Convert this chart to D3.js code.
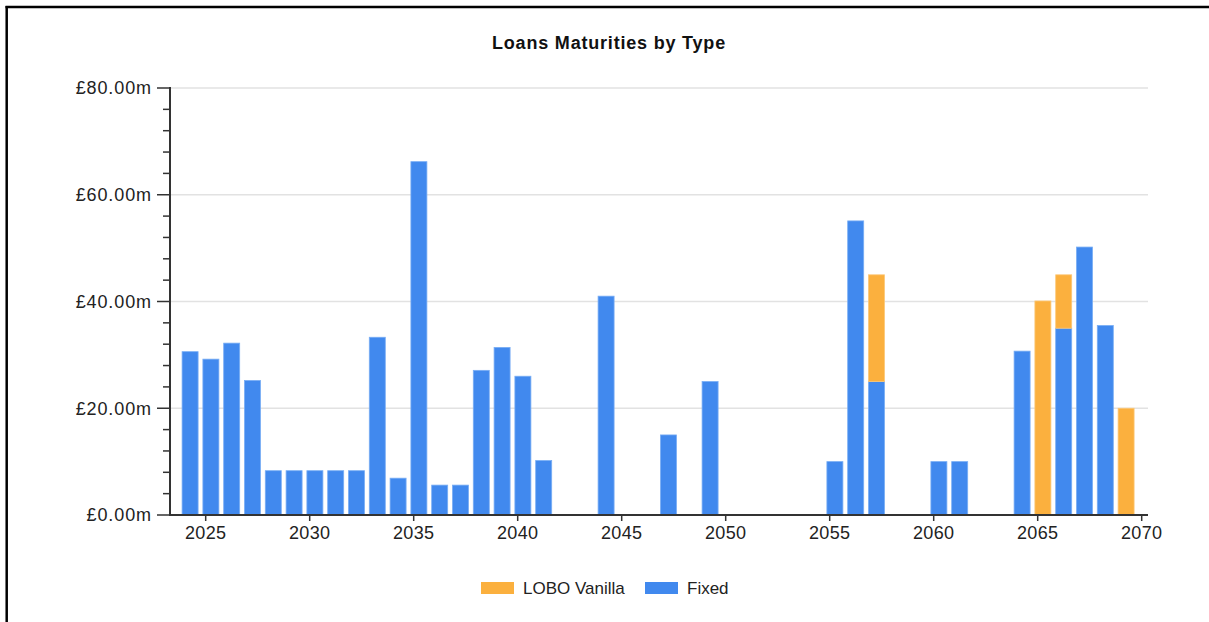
<!DOCTYPE html>
<html>
<head>
<meta charset="utf-8">
<script src="https://cdn.jsdelivr.net/npm/d3@7"></script>
<style>
  html, body { margin: 0; padding: 0; background: #fff; }
  svg { display: block; font-family: "Liberation Sans", Arial, sans-serif; }
</style>
</head>
<body>
<svg id="chart" width="1209" height="622"></svg>
<script>
// ---- data ----
const years = [2024, 2025, 2026, 2027, 2028, 2029, 2030, 2031, 2032, 2033, 2034, 2035, 2036, 2037, 2038, 2039, 2040, 2041,
               2044, 2047, 2049, 2055, 2056, 2057, 2060, 2061, 2064, 2065, 2066, 2067, 2068, 2069];
const fixed = [30.6, 29.2, 32.2, 25.2, 8.3, 8.3, 8.3, 8.3, 8.3, 33.3, 6.9, 66.2, 5.6, 5.6, 27.1, 31.4, 26.0, 10.2,
               41.0, 15.0, 25.0, 10.0, 55.1, 25.0, 10.0, 10.0, 30.7, 0, 35.0, 50.2, 35.5, 0];
const loboVanilla = [0, 0, 0, 0, 0, 0, 0, 0, 0, 0, 0, 0, 0, 0, 0, 0, 0, 0,
                     0, 0, 0, 0, 0, 20.0, 0, 0, 0, 40.1, 10.0, 0, 0, 20.0];
const seriesNames = ["LOBO Vanilla", "Fixed"];
const seriesColors = ["#fbb03e", "#4189ee"];
const yTicks = [0, 20, 40, 60, 80];
const xTicks = [2025, 2030, 2035, 2040, 2045, 2050, 2055, 2060, 2065, 2070];
const title = "Loans Maturities by Type";

// ---- layout ----
const svg = d3.select("#chart");
const plot = { left: 170, right: 1147, top: 88, bottom: 515 };

// frame (top and left border of the captured panel)
svg.append("line").attr("x1", 5.5).attr("x2", 1209).attr("y1", 7).attr("y2", 7)
   .attr("stroke", "#000").attr("stroke-width", 2.5);
svg.append("line").attr("x1", 6.7).attr("x2", 6.7).attr("y1", 6).attr("y2", 622)
   .attr("stroke", "#000").attr("stroke-width", 2.5);

const x = d3.scaleLinear().domain([2023.284, 2070.255]).range([plot.left, plot.right]);
const y = d3.scaleLinear().domain([0, 80]).range([plot.bottom, plot.top]);

// title
svg.append("text").attr("x", 609).attr("y", 49).attr("text-anchor", "middle")
   .attr("font-size", 18).attr("letter-spacing", 0.8).attr("font-weight", "bold").attr("fill", "#111").text(title);

// gridlines
svg.append("g").selectAll("line").data(yTicks.filter(d => d > 0)).join("line")
   .attr("x1", plot.left).attr("x2", plot.right + 1)
   .attr("y1", d => y(d)).attr("y2", d => y(d))
   .attr("stroke", "#e2e2e2").attr("stroke-width", 1.5);

// stacked data
const rows = years.map((yr, i) => ({ year: yr, "Fixed": fixed[i], "LOBO Vanilla": loboVanilla[i] }));
const stack = d3.stack().keys(["Fixed", "LOBO Vanilla"]);
const stacked = stack(rows);
const color = d3.scaleOrdinal().domain(seriesNames).range(seriesColors);
const barW = 16;
const barOffset = 0.25; // bars sit a quarter-year after the year mark

const gBars = svg.append("g");
stacked.forEach(layer => {
  gBars.append("g").selectAll("rect")
    .data(layer.filter(d => d[1] - d[0] > 0)).join("rect")
    .attr("x", d => x(d.data.year + barOffset) - barW / 2)
    .attr("width", barW)
    .attr("y", d => y(d[1]))
    .attr("height", d => y(d[0]) - y(d[1]))
    .attr("fill", color(layer.key))
    .attr("stroke", layer.key === "Fixed" ? "#78adf4" : "#fcc878")
    .attr("stroke-width", 0.8);
});

// y axis
const gy = svg.append("g").attr("transform", `translate(${plot.left},0)`);
gy.append("line").attr("x1", 0).attr("x2", 0).attr("y1", plot.top - 1).attr("y2", plot.bottom + 1)
  .attr("stroke", "#333").attr("stroke-width", 2);
gy.selectAll("line.minor").data(d3.range(0, 81, 4).filter(d => d % 20 !== 0)).join("line")
  .attr("class", "minor").attr("x1", -7).attr("x2", 0).attr("y1", d => y(d)).attr("y2", d => y(d))
  .attr("stroke", "#333").attr("stroke-width", 1.5);
gy.selectAll("line.major").data(yTicks).join("line")
  .attr("class", "major").attr("x1", -13).attr("x2", 0).attr("y1", d => y(d)).attr("y2", d => y(d))
  .attr("stroke", "#333").attr("stroke-width", 1.5);
gy.selectAll("text").data(yTicks).join("text")
  .attr("x", -18).attr("y", d => y(d)).attr("dy", "0.36em")
  .attr("text-anchor", "end").attr("font-size", 18).attr("letter-spacing", 0.9).attr("fill", "#222")
  .text(d => "£" + d3.format(".2f")(d) + "m");

// x axis
const gx = svg.append("g");
gx.append("line").attr("x1", plot.left - 1).attr("x2", plot.right + 1)
  .attr("y1", plot.bottom).attr("y2", plot.bottom).attr("stroke", "#333").attr("stroke-width", 2);
gx.selectAll("line.tick").data(xTicks).join("line").attr("class", "tick")
  .attr("x1", d => x(d)).attr("x2", d => x(d)).attr("y1", plot.bottom).attr("y2", plot.bottom + 6)
  .attr("stroke", "#333").attr("stroke-width", 1.5);
gx.selectAll("text").data(xTicks).join("text")
  .attr("x", d => x(d)).attr("y", 539).attr("text-anchor", "middle")
  .attr("font-size", 18).attr("letter-spacing", 0.3).attr("fill", "#222").text(d => d);

// legend
const legend = svg.append("g");
const legendItems = [
  { name: seriesNames[0], sx: 481, tx: 523 },
  { name: seriesNames[1], sx: 645, tx: 687 }
];
legendItems.forEach(it => {
  legend.append("rect").attr("x", it.sx).attr("y", 582).attr("width", 33).attr("height", 12)
    .attr("fill", color(it.name));
  legend.append("text").attr("x", it.tx).attr("y", 594).attr("font-size", 17).attr("fill", "#222")
    .text(it.name);
});
</script>
</body>
</html>
